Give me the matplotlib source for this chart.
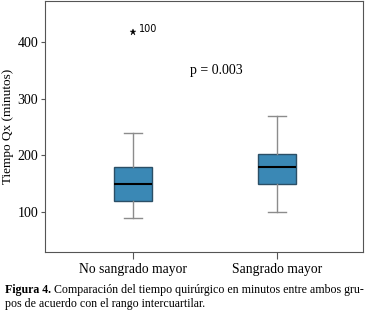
import matplotlib
matplotlib.use("Agg")
import matplotlib.pyplot as plt

categories = ["No sangrado mayor", "Sangrado mayor"]
whislo = [90, 100]
q1 = [120, 150]
med = [150, 180]
q3 = [180, 202]
whishi = [240, 270]
outliers = [[418], []]
outlier_labels = [["100"], []]
p_text = "p = 0.003"

plt.rcParams['font.family'] = ['Liberation Serif', 'DejaVu Serif']

fig = plt.figure(figsize=(3.66, 3.13), dpi=100)
ax = fig.add_axes([45/366, (313-252)/313, 318/366, 251/313])

stats = []
for i in range(len(categories)):
    stats.append(dict(whislo=whislo[i], q1=q1[i], med=med[i], q3=q3[i],
                      whishi=whishi[i], fliers=outliers[i], label=categories[i]))

ax.bxp(stats, positions=[1, 2], widths=0.264, patch_artist=True,
       boxprops=dict(facecolor="#3a88b5", edgecolor="#2b4f66", linewidth=1.0),
       medianprops=dict(color="black", linewidth=1.5),
       whiskerprops=dict(color="#8c8c8c", linewidth=1.0),
       capprops=dict(color="#8c8c8c", linewidth=1.0),
       capwidths=0.125,
       flierprops=dict(marker="*", markerfacecolor="black", markeredgecolor="black",
                       markersize=5, markeredgewidth=0.3))

for i, (vals, labs) in enumerate(zip(outliers, outlier_labels)):
    for v, l in zip(vals, labs):
        ax.annotate(l, (i + 1, v), xytext=(4, 2), textcoords="offset points",
                    fontsize=7, family="DejaVu Sans", va="center")

ax.text(1.58, 350, p_text, ha="center", va="center", fontsize=10)

ax.set_xlim(0.389, 2.597)
ax.set_ylim(30, 472)
ax.set_yticks([100, 200, 300, 400])
ax.set_xticks([1, 2])
ax.set_xticklabels(categories, fontsize=9.8)
ax.tick_params(axis="y", labelsize=10, length=3, pad=2, color="#555555")
ax.tick_params(axis="x", length=5, color="#555555", pad=3)
ax.set_ylabel("Tiempo Qx (minutos)", fontsize=9.5, labelpad=2)
ax.yaxis.set_label_coords(-31/318, 0.5)
for s in ax.spines.values():
    s.set_color("#555555")
    s.set_linewidth(0.8)

fig.canvas.draw()
r = fig.canvas.get_renderer()
fs = 8.6
t1 = fig.text(5/366, 1 - 290/313, "Figura 4.", fontsize=fs, weight="bold", va="center")
bb = t1.get_window_extent(renderer=r)
fig.text((bb.x1 + 3) / fig.bbox.width, 1 - 290/313,
         "Comparación del tiempo quirúrgico en minutos entre ambos gru-",
         fontsize=fs, va="center")
fig.text(5/366, 1 - 304/313, "pos de acuerdo con el rango intercuartilar.",
         fontsize=fs, va="center")

fig.savefig("out.png", dpi=100)
